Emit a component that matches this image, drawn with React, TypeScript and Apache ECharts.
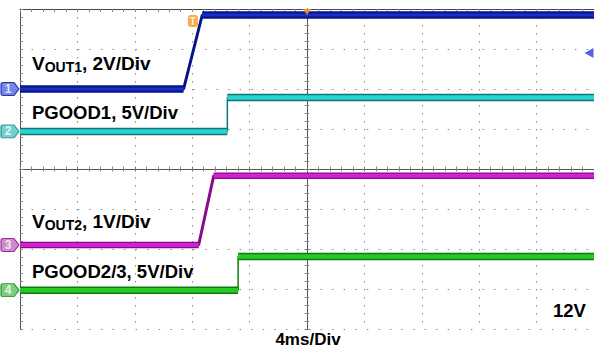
import React, { useEffect, useRef } from "react";
import * as echarts from "echarts";

// ---- time base: 4 ms/div, 10 divisions, trigger at centre ----
const timeMin = -20;
const timeMax = 20;
const timeDiv = 4;

// ---- waveform vertices: time (ms) / value (V) ----
const ch1Time = [-20, -8.6, -7.3, 20];
const ch1Volt = [0, 0, 3.7, 3.7];
const ch2Time = [-20, -5.55, -5.55, 20];
const ch2Volt = [0, 0, 4.25, 4.25];
const ch3Time = [-20, -7.55, -6.5, 20];
const ch3Volt = [0, 0, 1.73, 1.73];
const ch4Time = [-20, -4.8, -4.8, 20];
const ch4Volt = [0, 0, 4.2, 4.2];

// ---- channel settings ----
const channelIds = ["1", "2", "3", "4"];
const voltsPerDiv = [2, 5, 1, 5];
const offsetDiv = [2.0, 0.94, -1.9, -3.03];
const triggerTimeMs = -7.95;
const triggerLevelV = 1.8; // channel 1

const FONT = "Arial, 'Liberation Sans', sans-serif";

const outerColors = ["#08138a", "#0e7676", "#880c88", "#0d7a10"];
const innerColors = ["#1a2ec8", "#2ad2d2", "#d022d0", "#22cc22"];
const markerFill = ["#5068e6", "#50c4c4", "#c070c0", "#5cc05c"];
const outerWidth = [7.5, 7.5, 6.5, 7.5];
const innerWidth = [3, 4.5, 4, 4.5];

function toDiv(ch: number, v: number) {
  return offsetDiv[ch] + v / voltsPerDiv[ch];
}

function fullTrace(ch: number, t: number[], v: number[]) {
  return t.map((tt, i) => [tt, toDiv(ch, v[i])]);
}

function flatBand(ch: number, t: number[], v: number[]) {
  const out: any[] = [];
  for (let i = 0; i < t.length - 1; i++) {
    if (v[i] === v[i + 1]) {
      out.push([t[i], toDiv(ch, v[i])]);
      out.push([t[i + 1], toDiv(ch, v[i + 1])]);
    } else {
      out.push([t[i], "-"]);
    }
  }
  return out;
}

export default function App() {
  const ref = useRef<HTMLDivElement>(null);
  useEffect(() => {
    if (!ref.current) return;
    const chart = echarts.init(ref.current, undefined, { renderer: "svg" });
    const times = [ch1Time, ch2Time, ch3Time, ch4Time];
    const volts = [ch1Volt, ch2Volt, ch3Volt, ch4Volt];

    const series: any[] = [];
    for (let c = 0; c < 4; c++) {
      series.push({
        type: "line",
        data: fullTrace(c, times[c], volts[c]),
        symbol: "none",
        lineStyle: { color: outerColors[c], width: c === 0 || c === 2 ? 3 : 1.5 },
        z: 3,
        silent: true,
      });
      series.push({
        type: "line",
        data: flatBand(c, times[c], volts[c]),
        symbol: "none",
        connectNulls: false,
        lineStyle: { color: outerColors[c], width: outerWidth[c], cap: "butt" },
        z: 4,
        silent: true,
      });
      series.push({
        type: "line",
        data: flatBand(c, times[c], volts[c]),
        symbol: "none",
        connectNulls: false,
        lineStyle: { color: innerColors[c], width: innerWidth[c], cap: "butt" },
        z: 5,
        silent: true,
      });
    }

    // channel ground markers on the left edge
    series.push({
      type: "scatter",
      clip: false,
      silent: true,
      z: 6,
      symbol: "path://M2,0 L13,0 L18,6.5 L13,13 L2,13 Q0,13 0,11 L0,2 Q0,0 2,0 Z",
      symbolSize: [18, 13],
      symbolOffset: [-10, 0],
      data: channelIds.map((id, c) => ({
        value: [timeMin, offsetDiv[c]],
        itemStyle: { color: markerFill[c], borderColor: outerColors[c], borderWidth: 1 },
        label: {
          show: true,
          formatter: id,
          position: "inside",
          offset: [-2, 0],
          color: "#ffffff",
          fontSize: 12,
          fontWeight: "bold",
          fontFamily: FONT,
        },
      })),
    });

    // trigger position "T", centre trigger marker, trigger level
    series.push({
      type: "scatter",
      clip: false,
      silent: true,
      z: 7,
      data: [
        {
          value: [triggerTimeMs, 4],
          symbol: "roundRect",
          symbolSize: [10, 12],
          symbolOffset: [0, 12],
          itemStyle: { color: "#f29a1c" },
          label: {
            show: true,
            formatter: "T",
            position: "inside",
            color: "#ffffff",
            fontSize: 10,
            fontWeight: "bold",
            fontFamily: FONT,
          },
        },
        {
          value: [0, 4],
          symbol: "triangle",
          symbolRotate: 180,
          symbolSize: [9, 6],
          symbolOffset: [0, 3],
          itemStyle: { color: "#f29a1c" },
        },
        {
          value: [timeMax, toDiv(0, triggerLevelV)],
          symbol: "triangle",
          symbolRotate: 90,
          symbolSize: [10, 9],
          symbolOffset: [-5, 0],
          itemStyle: { color: "#2a3de0" },
        },
      ],
    });

    const minorTick = { show: true, splitNumber: 5, length: 3, lineStyle: { color: "#888", width: 1 } };
    const baseX = {
      type: "value",
      min: timeMin,
      max: timeMax,
      interval: timeDiv,
      axisLabel: { show: false },
    };
    const baseY = {
      type: "value",
      min: -4,
      max: 4,
      interval: 1,
      axisLabel: { show: false },
    };

    const mainRich = {
      m: { fontSize: 19, fontWeight: "bold", fontFamily: FONT, lineHeight: 22, verticalAlign: "middle", fill: "#000", color: "#000" },
      s: { fontSize: 14, fontWeight: "bold", fontFamily: FONT, lineHeight: 14, verticalAlign: "bottom", fill: "#000", color: "#000" },
    };

    const option: any = {
      animation: false,
      backgroundColor: "#ffffff",
      grid: { left: 20, top: 9, width: 578, height: 320, containLabel: false },
      xAxis: [
        {
          ...baseX,
          position: "top",
          axisLine: { show: true, onZero: false, lineStyle: { color: "#444", width: 1 } },
          axisTick: { show: true, inside: true, length: 3, lineStyle: { color: "#888" } },
          minorTick,
          splitLine: { show: true, lineStyle: { color: "#8a8a8a", width: 1, type: [1.5, 6.5] } },
        },
        {
          ...baseX,
          position: "bottom",
          axisLine: { show: true, onZero: true, lineStyle: { color: "#555", width: 1 } },
          axisTick: { show: true, inside: true, length: 2.5, lineStyle: { color: "#777" } },
          minorTick: { ...minorTick, length: 2.5 },
          splitLine: { show: false },
        },
        {
          ...baseX,
          position: "bottom",
          axisLine: { show: true, onZero: true, lineStyle: { color: "#555", width: 1 } },
          axisTick: { show: true, inside: false, length: 2.5, lineStyle: { color: "#777" } },
          minorTick: { ...minorTick, length: 2.5 },
          splitLine: { show: false },
        },
      ],
      yAxis: [
        {
          ...baseY,
          position: "left",
          axisLine: { show: true, onZero: false, lineStyle: { color: "#555", width: 1 } },
          axisTick: { show: true, inside: true, length: 3, lineStyle: { color: "#888" } },
          minorTick,
          splitLine: { show: true, lineStyle: { color: "#8a8a8a", width: 1, type: [1.5, 10.06] } },
        },
        {
          ...baseY,
          position: "left",
          axisLine: { show: true, onZero: true, lineStyle: { color: "#555", width: 1 } },
          axisTick: { show: true, inside: true, length: 2.5, lineStyle: { color: "#777" } },
          minorTick: { ...minorTick, length: 2.5 },
          splitLine: { show: false },
        },
        {
          ...baseY,
          position: "left",
          axisLine: { show: true, onZero: true, lineStyle: { color: "#555", width: 1 } },
          axisTick: { show: true, inside: false, length: 2.5, lineStyle: { color: "#777" } },
          minorTick: { ...minorTick, length: 2.5 },
          splitLine: { show: false },
        },
      ],
      series,
      graphic: [
        {
          type: "text",
          x: 32,
          y: 63,
          z: 10,
          style: { text: "{m|V}{s|OUT1}{m|, 2V/Div}", verticalAlign: "middle", rich: mainRich },
        },
        {
          type: "text",
          x: 32,
          y: 112,
          z: 10,
          style: { text: "PGOOD1, 5V/Div", verticalAlign: "middle", font: `bold 18.5px ${FONT}`, fill: "#000" },
        },
        {
          type: "text",
          x: 32,
          y: 221,
          z: 10,
          style: { text: "{m|V}{s|OUT2}{m|, 1V/Div}", verticalAlign: "middle", rich: mainRich },
        },
        {
          type: "text",
          x: 32,
          y: 271,
          z: 10,
          style: { text: "PGOOD2/3, 5V/Div", verticalAlign: "middle", font: `bold 18.5px ${FONT}`, fill: "#000" },
        },
        {
          type: "text",
          x: 553,
          y: 310,
          z: 10,
          style: { text: "12V", verticalAlign: "middle", font: `bold 18.5px ${FONT}`, fill: "#000" },
        },
        {
          type: "text",
          x: 308,
          y: 339.5,
          z: 10,
          style: { text: "4ms/Div", align: "center", verticalAlign: "middle", font: `bold 17px ${FONT}`, fill: "#000" },
        },
      ],
    };
    chart.setOption(option);
    return () => chart.dispose();
  }, []);
  return (
    <div
      ref={ref}
      style={{ position: "fixed", left: 0, top: 0, width: 594, height: 349, background: "#fff" }}
    />
  );
}
